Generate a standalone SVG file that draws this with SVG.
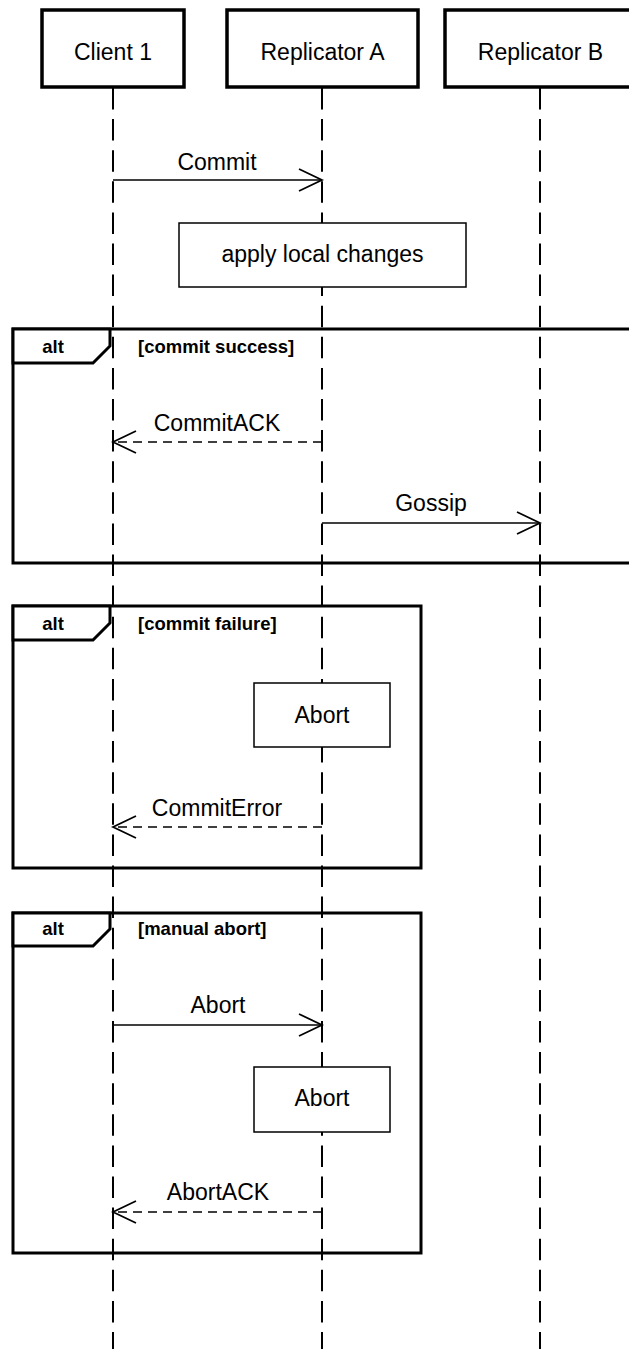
<svg xmlns="http://www.w3.org/2000/svg" width="629" height="1349" viewBox="0 0 629 1349">
<defs>
<style>
text{font-family:"Liberation Sans",Arial,Helvetica,sans-serif;fill:#000}
.lbl{font-size:23px;text-anchor:middle}
.bold{font-size:18.5px;font-weight:bold}
.head{fill:#fff;stroke:#000;stroke-width:3.5}
.act{fill:#fff;stroke:#000;stroke-width:1.5}
.life{stroke:#000;stroke-width:2;stroke-dasharray:21.5 9.6;fill:none}
.frame{fill:none;stroke:#000;stroke-width:3}
.tab{fill:#fff;stroke:#000;stroke-width:3;stroke-linejoin:miter}
.msg{stroke:#000;stroke-width:1.6;fill:none}
.ret{stroke:#000;stroke-width:1.6;fill:none;stroke-dasharray:9 6}
</style>
<marker id="open" viewBox="0 0 26 26" refX="24" refY="13" markerWidth="26" markerHeight="26" markerUnits="userSpaceOnUse" orient="auto">
<path d="M1,2 L24,13 L1,24" fill="none" stroke="#000" stroke-width="1.8"/>
</marker>
</defs>
<g id="lifelines">
<line class="life" x1="113" y1="88" x2="113" y2="1349"/>
<line class="life" x1="322" y1="88" x2="322" y2="1349"/>
<line class="life" x1="540" y1="88" x2="540" y2="1349"/>
</g>
<g id="client1"><rect class="head" x="42" y="10" width="142" height="77"/><text class="lbl" x="113" y="60">Client 1</text></g>
<g id="replicatorA"><rect class="head" x="227" y="10" width="191" height="77"/><text class="lbl" x="322.5" y="60">Replicator A</text></g>
<g id="replicatorB"><rect class="head" x="445" y="10" width="192" height="77"/><text class="lbl" x="540.5" y="60">Replicator B</text></g>
<g id="applyLocal"><rect class="act" x="179" y="223" width="287" height="64"/><text class="lbl" x="322.5" y="262">apply local changes</text></g>
<g id="frame1">
<rect class="frame" x="13" y="329" width="630" height="234"/>
<path class="tab" d="M13,329 H110 V346 L93,363 H13 Z"/>
<text class="bold" x="53" y="353" text-anchor="middle">alt</text>
<text class="bold" x="138" y="353">[commit success]</text>
</g>
<g id="frame2">
<rect class="frame" x="13" y="606" width="408" height="262"/>
<path class="tab" d="M13,606 H110 V623 L93,640 H13 Z"/>
<text class="bold" x="53" y="630" text-anchor="middle">alt</text>
<text class="bold" x="138" y="630">[commit failure]</text>
</g>
<g id="abort1"><rect class="act" x="254" y="683" width="136" height="64"/><text class="lbl" x="322" y="723">Abort</text></g>
<g id="frame3">
<rect class="frame" x="13" y="913" width="408" height="340"/>
<path class="tab" d="M13,913 H110 V929 L93,946 H13 Z"/>
<text class="bold" x="53" y="935" text-anchor="middle">alt</text>
<text class="bold" x="138" y="935">[manual abort]</text>
</g>
<g id="abort2"><rect class="act" x="254" y="1067" width="136" height="65"/><text class="lbl" x="322" y="1106">Abort</text></g>
<g id="connectors">
<line class="msg" x1="113" y1="180" x2="322" y2="180" marker-end="url(#open)"/>
<text class="lbl" x="217" y="170">Commit</text>
<line class="ret" x1="322" y1="442" x2="113" y2="442" marker-end="url(#open)"/>
<text class="lbl" x="217" y="431">CommitACK</text>
<line class="msg" x1="322" y1="523" x2="540" y2="523" marker-end="url(#open)"/>
<text class="lbl" x="431" y="511">Gossip</text>
<line class="ret" x1="322" y1="827" x2="113" y2="827" marker-end="url(#open)"/>
<text class="lbl" x="217" y="816">CommitError</text>
<line class="msg" x1="113" y1="1025" x2="322" y2="1025" marker-end="url(#open)"/>
<text class="lbl" x="218" y="1013">Abort</text>
<line class="ret" x1="322" y1="1212" x2="113" y2="1212" marker-end="url(#open)"/>
<text class="lbl" x="218" y="1200">AbortACK</text>
</g>
</svg>
